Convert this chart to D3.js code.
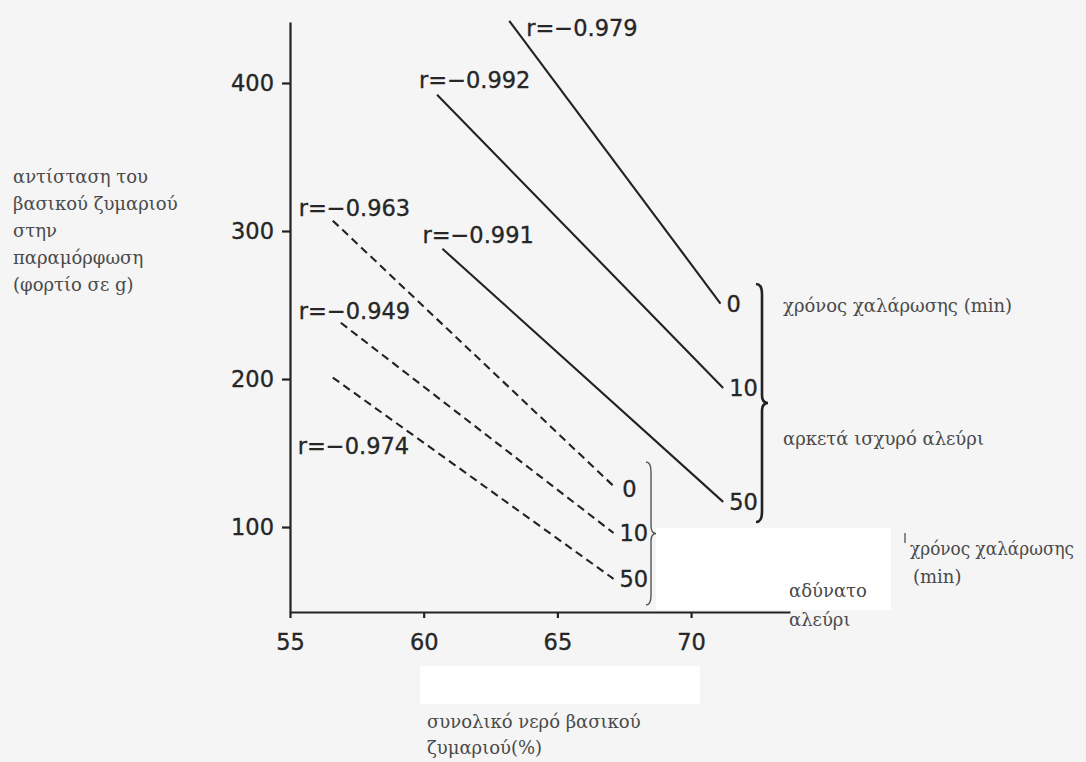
<!DOCTYPE html>
<html>
<head>
<meta charset="utf-8">
<script src="https://cdn.jsdelivr.net/npm/d3@7"></script>
<style>
  body { margin: 0; background: #f5f5f5; }
  .num { font-family: "DejaVu Sans", sans-serif; font-size: 22.5px; fill: #262626; stroke: #262626; stroke-width: 0.35px; }
  .note { font-family: "DejaVu Serif", serif; font-size: 18px; fill: #4a4a4a; }
</style>
</head>
<body>
<svg width="1086" height="762"></svg>
<script>
// ticks
var xTicks = [55, 60, 65, 70]
var yTicks = [100, 200, 300, 400]

// strong flour (solid lines), relaxation time 0 / 10 / 50 min
var strongTimes = ["0", "10", "50"]
var strongR = ["r=\u22120.979", "r=\u22120.992", "r=\u22120.991"]
var strongX0 = [63.2, 60.5, 60.7]
var strongY0 = [442, 392, 288]
var strongX1 = [71.1, 71.2, 71.2]
var strongY1 = [251, 194, 117]

// weak flour (dashed lines)
var weakTimes = ["0", "10", "50"]
var weakR = ["r=\u22120.963", "r=\u22120.949", "r=\u22120.974"]
var weakX0 = [56.6, 56.9, 56.6]
var weakY0 = [307, 238, 201]
var weakX1 = [67.2, 67.1, 67.1]
var weakY1 = [126, 96, 65]

var yTitle = ["αντίσταση του", "βασικού ζυμαριού", "στην", "παραμόρφωση", "(φορτίο σε g)"]
var xTitle = ["συνολικό νερό βασικού", "ζυμαριού(%)"]

var svg = d3.select('svg')

var mapx = d3.scaleLinear()
    .domain([55, 73.7])
    .range([290, 790])
var mapy = d3.scaleLinear()
    .domain([42.6, 441.2])
    .range([612, 22])

// blanked patches of the scan
svg.append('rect').attr('x', 656).attr('y', 528).attr('width', 235).attr('height', 82).style('fill', '#fff')
svg.append('rect').attr('x', 420).attr('y', 666).attr('width', 280).attr('height', 38).style('fill', '#fff')

// axes
var xAxis = svg.append('g')
    .attr('transform', 'translate(0,612)')
    .call(d3.axisBottom(mapx).tickValues(xTicks).tickSize(6).tickSizeOuter(0).tickPadding(16))
var yAxis = svg.append('g')
    .attr('transform', 'translate(290,0)')
    .call(d3.axisLeft(mapy).tickValues(yTicks).tickSize(8).tickSizeOuter(0).tickPadding(8))

svg.selectAll('.domain, .tick line').style('stroke', '#222').style('stroke-width', 2.2)
svg.selectAll('.tick text').attr('class', 'num').attr('fill', null)
xAxis.attr('font-size', null).attr('font-family', null)
yAxis.attr('font-size', null).attr('font-family', null)

// label offsets from line starts (r labels), hand placed
var strongRdx = [17, -18, -20], strongRdy = [15, -7, -6]
var weakRdx = [-34, -42, -35], weakRdy = [-5, -4, 76]

function drawGroup(times, rs, x0, y0, x1, y1, dashed, rdx, rdy) {
    times.forEach(function(t, i) {
        var line = svg.append('line')
            .attr('x1', mapx(x0[i])).attr('y1', mapy(y0[i]))
            .attr('x2', mapx(x1[i])).attr('y2', mapy(y1[i]))
            .style('stroke', '#222')
            .style('stroke-width', 2.1)
        if (dashed) line.style('stroke-dasharray', '8,5')
        svg.append('text').attr('class', 'num')
            .attr('x', mapx(x1[i]) + 6).attr('y', mapy(y1[i]) + 8)
            .text(t)
        svg.append('text').attr('class', 'num')
            .attr('x', mapx(x0[i]) + rdx[i]).attr('y', mapy(y0[i]) + rdy[i])
            .text(rs[i])
    })
}
drawGroup(strongTimes, strongR, strongX0, strongY0, strongX1, strongY1, false, strongRdx, strongRdy)
drawGroup(weakTimes, weakR, weakX0, weakY0, weakX1, weakY1, true, weakRdx, weakRdy)

// curly braces
function brace(x, top, bottom, w, sw, col) {
    var mid = (top + bottom) / 2
    var p = 'M' + (x - w) + ',' + top +
        ' Q' + x + ',' + top + ' ' + x + ',' + (top + 10) +
        ' L' + x + ',' + (mid - 8) +
        ' Q' + x + ',' + mid + ' ' + (x + w) + ',' + mid +
        ' Q' + x + ',' + mid + ' ' + x + ',' + (mid + 8) +
        ' L' + x + ',' + (bottom - 10) +
        ' Q' + x + ',' + bottom + ' ' + (x - w) + ',' + bottom
    svg.append('path').attr('d', p)
        .style('fill', 'none').style('stroke', col).style('stroke-width', sw)
}
brace(762, 284, 522, 6, 2.6, '#222')
brace(651, 462, 605, 5, 1.4, '#555')
svg.append('line').attr('x1', 905).attr('y1', 533).attr('x2', 905).attr('y2', 543)
    .style('stroke', '#666').style('stroke-width', 1.5)

// annotations
svg.append('text').attr('class', 'note').attr('x', 783).attr('y', 312).text('χρόνος χαλάρωσης (min)')
svg.append('text').attr('class', 'note').attr('x', 783).attr('y', 445).text('αρκετά ισχυρό αλεύρι')
svg.append('text').attr('class', 'note').attr('x', 910).attr('y', 555)
    .attr('textLength', 164).attr('lengthAdjust', 'spacingAndGlyphs')
    .text('χρόνος χαλάρωσης')
svg.append('text').attr('class', 'note').attr('x', 913).attr('y', 583).text('(min)')
svg.append('text').attr('class', 'note').attr('x', 789).attr('y', 597).text('αδύνατο')
svg.append('text').attr('class', 'note').attr('x', 789).attr('y', 626).text('αλεύρι')

svg.selectAll('.ytitle').data(yTitle).enter().append('text')
    .attr('class', 'note ytitle')
    .attr('x', 13)
    .attr('y', function(d, i) { return 183 + i * 27 })
    .text(function(d) { return d })

svg.selectAll('.xtitle').data(xTitle).enter().append('text')
    .attr('class', 'note xtitle')
    .attr('x', 427)
    .attr('y', function(d, i) { return 728 + i * 26 })
    .text(function(d) { return d })
</script>
</body>
</html>
